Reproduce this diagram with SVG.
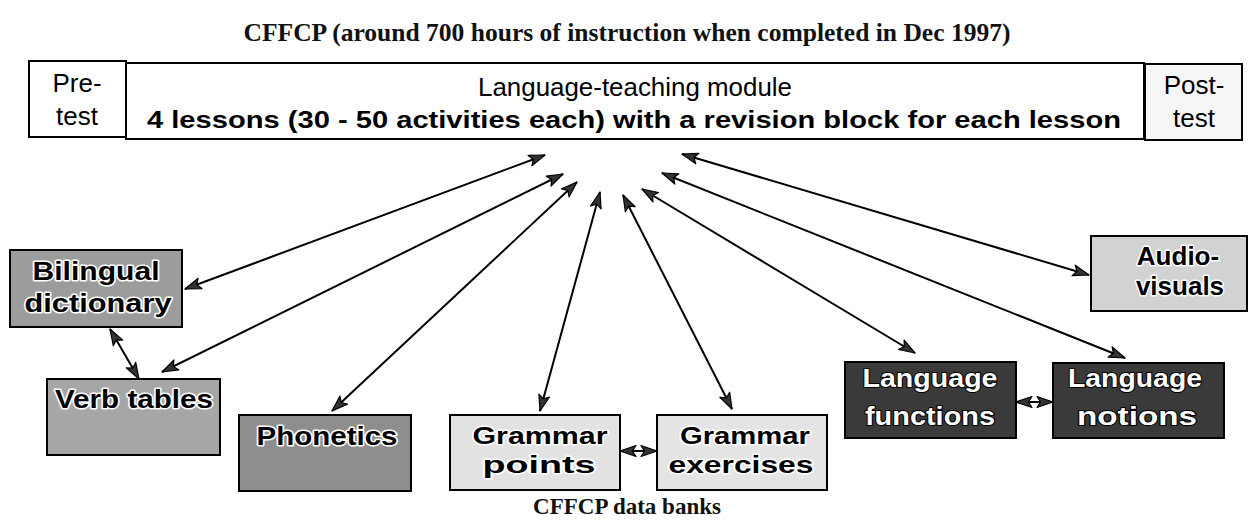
<svg xmlns="http://www.w3.org/2000/svg" width="1253" height="523" viewBox="0 0 1253 523">
<style>
.box{stroke:#000;stroke-width:2}
.serif{font-family:"Liberation Serif","Times New Roman",serif;font-weight:bold;fill:#111}
.hdr{font-family:"Liberation Sans",Arial,sans-serif;fill:#000}
.lbl{font-family:"Liberation Sans",Arial,sans-serif;font-weight:bold;font-size:26px;text-anchor:middle;fill:#000;stroke:#fff;stroke-width:3;paint-order:stroke;stroke-linejoin:round}
.lbld{font-family:"Liberation Sans",Arial,sans-serif;font-weight:bold;font-size:26px;text-anchor:middle;fill:#fff;stroke:#000;stroke-width:2;paint-order:stroke;stroke-linejoin:round}
.sm{font-size:24px}
.conn line{stroke:#000;stroke-width:2;marker-start:url(#ah);marker-end:url(#ah)}
</style>
<defs>
<marker id="ah" markerUnits="userSpaceOnUse" markerWidth="18" markerHeight="14" refX="17" refY="7" orient="auto-start-reverse">
<path d="M1,1.5 L17,7 L1,12.5 L4.5,7 z" fill="#333" stroke="#000" stroke-width="1.2" stroke-linejoin="round"/>
</marker>
</defs>
<rect width="1253" height="523" fill="#fff"/>
<text class="serif" x="627" y="41" font-size="25" text-anchor="middle" textLength="767" lengthAdjust="spacingAndGlyphs">CFFCP (around 700 hours of instruction when completed in Dec 1997)</text>
<g id="pretest">
<rect class="box" x="29" y="61" width="97" height="76" fill="#fff"/>
<text class="hdr" x="77" y="92" font-size="26" text-anchor="middle">Pre-</text>
<text class="hdr" x="77" y="125" font-size="26" text-anchor="middle">test</text>
</g>
<g id="module">
<rect class="box" x="126" y="63" width="1018" height="76" fill="#fff"/>
<text class="hdr" x="635" y="96" font-size="25" text-anchor="middle" textLength="314" lengthAdjust="spacingAndGlyphs">Language-teaching module</text>
<text class="hdr" x="634" y="128" font-size="24" font-weight="bold" text-anchor="middle" textLength="974" lengthAdjust="spacingAndGlyphs">4 lessons (30 - 50 activities each) with a revision block for each lesson</text>
</g>
<g id="posttest">
<rect class="box" x="1145" y="64" width="97" height="76" fill="#f6f6f6"/>
<text class="hdr" x="1194" y="94" font-size="26" text-anchor="middle">Post-</text>
<text class="hdr" x="1194" y="127" font-size="26" text-anchor="middle">test</text>
</g>
<g class="conn" id="connectors">
<line x1="185" y1="289" x2="545" y2="155"/>
<line x1="162" y1="372" x2="563" y2="174"/>
<line x1="332" y1="411" x2="577" y2="182"/>
<line x1="540" y1="411" x2="600" y2="192"/>
<line x1="732" y1="409" x2="623" y2="195"/>
<line x1="915" y1="353" x2="642" y2="189"/>
<line x1="1125" y1="358" x2="662" y2="173"/>
<line x1="1089" y1="275" x2="682" y2="154"/>
<line x1="110" y1="329" x2="139" y2="379"/>
<line x1="620" y1="451" x2="657" y2="451"/>
<line x1="1016" y1="402" x2="1053" y2="402"/>
</g>
<g id="bilingual">
<rect class="box" x="10" y="250" width="172" height="77" fill="#9c9c9c"/>
<text class="lbl" x="96" y="280" textLength="127" lengthAdjust="spacingAndGlyphs">Bilingual</text>
<text class="lbl" x="98" y="312" textLength="147" lengthAdjust="spacingAndGlyphs">dictionary</text>
</g>
<g id="verbtables">
<rect class="box" x="47" y="379" width="173" height="76" fill="#a6a6a6"/>
<text class="lbl" x="134" y="408" textLength="158" lengthAdjust="spacingAndGlyphs">Verb tables</text>
</g>
<g id="phonetics">
<rect class="box" x="239" y="415" width="172" height="76" fill="#8e8e8e"/>
<text class="lbl" x="327" y="445" textLength="141" lengthAdjust="spacingAndGlyphs">Phonetics</text>
</g>
<g id="grammarpoints">
<rect class="box" x="450" y="415" width="170" height="75" fill="#e2e2e2"/>
<text class="lbl sm" x="540" y="444" textLength="135" lengthAdjust="spacingAndGlyphs">Grammar</text>
<text class="lbl sm" x="539" y="473" textLength="113" lengthAdjust="spacingAndGlyphs">points</text>
</g>
<g id="grammarexercises">
<rect class="box" x="657" y="415" width="170" height="75" fill="#e4e4e4"/>
<text class="lbl sm" x="745" y="444" textLength="130" lengthAdjust="spacingAndGlyphs">Grammar</text>
<text class="lbl sm" x="741" y="473" textLength="145" lengthAdjust="spacingAndGlyphs">exercises</text>
</g>
<g id="languagefunctions">
<rect class="box" x="845" y="362" width="171" height="76" fill="#3a3a3a"/>
<text class="lbld" x="930" y="387" textLength="135" lengthAdjust="spacingAndGlyphs">Language</text>
<text class="lbld" x="930" y="425" textLength="130" lengthAdjust="spacingAndGlyphs">functions</text>
</g>
<g id="languagenotions">
<rect class="box" x="1053" y="363" width="171" height="75" fill="#3a3a3a"/>
<text class="lbld" x="1135" y="387" textLength="134" lengthAdjust="spacingAndGlyphs">Language</text>
<text class="lbld" x="1137" y="425" textLength="120" lengthAdjust="spacingAndGlyphs">notions</text>
</g>
<g id="audiovisuals">
<rect class="box" x="1091" y="236" width="156" height="75" fill="#d2d2d2"/>
<text class="lbl" x="1178" y="265" font-size="23">Audio-</text>
<text class="lbl" x="1180" y="295" font-size="23">visuals</text>
</g>
<text class="serif" x="627" y="514" font-size="23" text-anchor="middle">CFFCP data banks</text>
</svg>
